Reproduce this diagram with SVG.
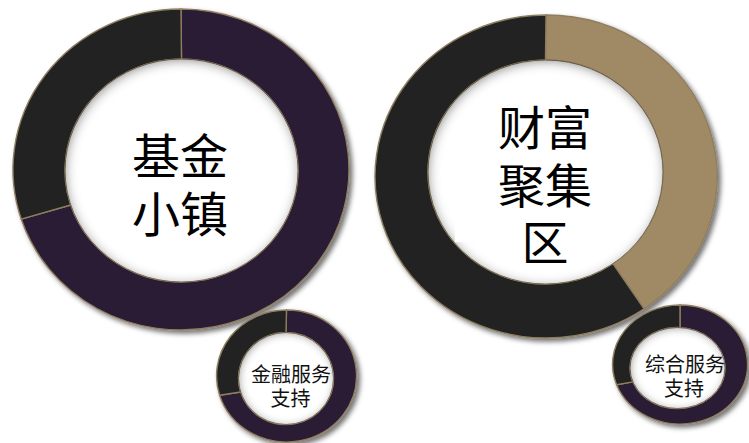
<svg xmlns="http://www.w3.org/2000/svg" width="749" height="443" viewBox="0 0 749 443">
  <defs>
    <filter id="drop" x="-10%" y="-10%" width="125%" height="125%">
      <feDropShadow dx="3" dy="3" stdDeviation="2.5" flood-color="#000" flood-opacity="0.55"/>
    </filter>
    <filter id="inset" x="-15%" y="-15%" width="130%" height="130%">
      <feFlood flood-color="#000" flood-opacity="0.85" result="f"/>
      <feComposite in="f" in2="SourceAlpha" operator="out" result="o"/>
      <feOffset in="o" dx="1" dy="2" result="oo"/>
      <feGaussianBlur in="oo" stdDeviation="6" result="b"/>
      <feComposite in="b" in2="SourceAlpha" operator="in" result="s"/>
      <feMerge><feMergeNode in="SourceGraphic"/><feMergeNode in="s"/></feMerge>
    </filter>
    <filter id="insetS" x="-15%" y="-15%" width="130%" height="130%">
      <feFlood flood-color="#000" flood-opacity="0.8" result="f"/>
      <feComposite in="f" in2="SourceAlpha" operator="out" result="o"/>
      <feOffset in="o" dx="1" dy="1" result="oo"/>
      <feGaussianBlur in="oo" stdDeviation="4" result="b"/>
      <feComposite in="b" in2="SourceAlpha" operator="in" result="s"/>
      <feMerge><feMergeNode in="SourceGraphic"/><feMergeNode in="s"/></feMerge>
    </filter>
  </defs>
  <style>
    .purple { fill: #2a1b36; }
    .dark { fill: #232323; }
    .tan { fill: #a08a66; }
    .seg { stroke: #8e7d5e; stroke-width: 1.4; stroke-linejoin: round; }
    .hole { fill: #ffffff; stroke: #8e7d5e; stroke-width: 1; }
    .big { font-family: "Liberation Sans", "Noto Sans CJK SC", sans-serif; font-size: 48px; fill: #000; text-anchor: middle; }
    .small { font-family: "Liberation Sans", "Noto Sans CJK SC", sans-serif; font-size: 20px; fill: #111; text-anchor: middle; }
  </style>
  <rect width="749" height="443" fill="#ffffff"/>

  <g id="node-jijin-xiaozhen">
    <g filter="url(#drop)">
      <path class="purple seg" d="M181,9 A168,160.5 0 1 1 21.2,219.1 L70.7,205 A116.5,111.5 0 1 0 181.5,59 Z"/>
      <path class="dark seg" d="M21.2,219.1 A168,160.5 0 0 1 181,9 L181.5,59 A116.5,111.5 0 0 0 70.7,205 Z"/>
    </g>
    <ellipse class="hole" cx="181.5" cy="170.5" rx="116.5" ry="111.5" filter="url(#inset)"/>
    <text class="big"><tspan x="180" y="173.5">基金</tspan><tspan x="180" y="232">小镇</tspan></text>
  </g>

  <g id="node-caifu-jujiqu">
    <g filter="url(#drop)">
      <path class="tan seg" d="M546,15 A171,161.5 0 0 1 644.1,308.8 L612.9,263.7 A117.5,112 0 0 0 545.5,60 Z"/>
      <path class="dark seg" d="M644.1,308.8 A171,161.5 0 1 1 546,15 L545.5,60 A117.5,112 0 1 0 612.9,263.7 Z"/>
    </g>
    <ellipse class="hole" cx="545.5" cy="172" rx="117.5" ry="112" filter="url(#inset)"/>
    <rect x="455" y="123" width="40" height="119" fill="#ffffff"/>
    <text class="big" style="font-size:47px"><tspan x="545" y="145">财富</tspan><tspan x="545" y="202.5">聚集</tspan><tspan x="545" y="260">区</tspan></text>
  </g>

  <g id="node-jinrong-fuwu">
    <g filter="url(#drop)">
      <path class="purple seg" d="M286.5,310 A70,66 0 1 1 219.6,395.3 L240.6,392 A47.5,46 0 1 0 286,332.5 Z"/>
      <path class="dark seg" d="M219.6,395.3 A70,66 0 0 1 286.5,310 L286,332.5 A47.5,46 0 0 0 240.6,392 Z"/>
    </g>
    <ellipse class="hole" cx="286" cy="378.5" rx="47.5" ry="46" filter="url(#insetS)"/>
    <text class="small"><tspan x="291" y="382">金融服务</tspan><tspan x="290.5" y="405.5">支持</tspan></text>
  </g>

  <g id="node-zonghe-fuwu">
    <g filter="url(#drop)">
      <path class="purple seg" d="M680,305 A67.5,59.5 0 1 1 616.6,384.8 L632.9,381.9 A47.5,40.5 0 1 0 680,327.6 Z"/>
      <path class="dark seg" d="M616.6,384.8 A67.5,59.5 0 0 1 680,305 L680,327.6 A47.5,40.5 0 0 0 632.9,381.9 Z"/>
    </g>
    <ellipse class="hole" cx="677.5" cy="368" rx="47.5" ry="40.5" filter="url(#insetS)"/>
    <text class="small"><tspan x="685" y="372">综合服务</tspan><tspan x="684" y="396">支持</tspan></text>
  </g>

  <g id="connectors"/>
</svg>
